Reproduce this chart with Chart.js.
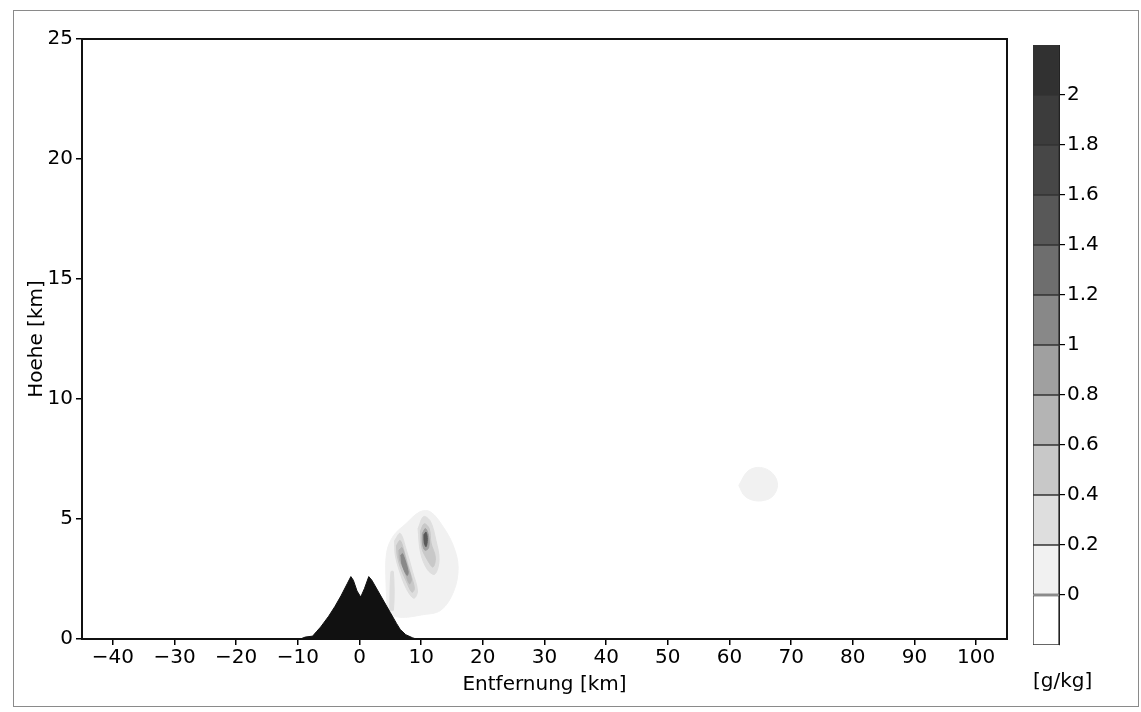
<!DOCTYPE html>
<html>
<head>
<meta charset="utf-8">
<script src="https://cdn.jsdelivr.net/npm/chart.js@4.4.1/dist/chart.umd.min.js"></script>
<style>
  html, body { margin: 0; padding: 0; background: #fff; }
  #wrap { position: relative; width: 1141px; height: 712px; overflow: hidden; }
  #frame { position: absolute; left: 13px; top: 10px; width: 1126px; height: 697px;
           border: 1px solid #8a8a8a; box-sizing: border-box; }
  #main { position: absolute; left: 0; top: 0; }
  #cbar { position: absolute; left: 1000px; top: 0; }
</style>
</head>
<body>
<div id="wrap">
  <div id="frame"></div>
  <canvas id="main" width="1141" height="712"></canvas>
  <canvas id="cbar" width="141" height="712"></canvas>
</div>
<script>
// axes
const xTicks = [-40, -30, -20, -10, 0, 10, 20, 30, 40, 50, 60, 70, 80, 90, 100];
const yTicks = [0, 5, 10, 15, 20, 25];

// terrain profile (km, km)
const terrainX = [-45, -9.6, -8.8, -7.6, -7.0, -6.3, -5.0, -4.0, -3.0, -2.0, -1.4, -1.0, -0.4, 0.2, 0.8, 1.5, 2.0, 3.0, 4.0, 5.0, 6.0, 6.6, 7.5, 8.6, 9.2, 105];
const terrainZ = [0, 0, 0.08, 0.12, 0.3, 0.5, 0.95, 1.35, 1.8, 2.3, 2.6, 2.45, 2.0, 1.75, 2.1, 2.6, 2.45, 2.0, 1.55, 1.1, 0.65, 0.4, 0.18, 0.05, 0, 0];

// colour bar levels [g/kg]
const levelEdges = [-0.2, 0, 0.2, 0.4, 0.6, 0.8, 1.0, 1.2, 1.4, 1.6, 1.8, 2.0, 2.2];
const levelTicks = [0, 0.2, 0.4, 0.6, 0.8, 1.0, 1.2, 1.4, 1.6, 1.8, 2.0];

// contour regions [x km, z km]; level = colour bar band
const haloMain = [[4.6,1.0],[7,0.9],[10,1.0],[13.2,1.2],[15.3,2.0],[16.0,3.0],[15.2,3.9],[13.5,4.7],[11.5,5.3],[9.8,5.3],[7.5,4.8],[5.5,4.3],[4.4,3.6],[4.3,2.3]];
const haloFar = [[61.5,6.4],[62.5,5.95],[64.5,5.75],[66.8,5.9],[67.8,6.4],[67.0,6.9],[65.0,7.15],[63.0,7.0]];
const slopeStreak = [[4.9,1.2],[5.5,1.2],[5.5,2.8],[5.1,2.8]];
const streak02 = [[5.7,4.1],[6.6,4.4],[7.6,3.7],[8.6,2.8],[9.4,2.0],[8.8,1.7],[7.6,2.1],[6.4,2.9],[5.8,3.5]];
const spot02 = [[9.5,4.6],[10.4,5.1],[11.5,4.9],[12.4,4.1],[12.9,3.3],[12.2,2.7],[11.0,2.9],[9.9,3.6]];
const streak04 = [[6.0,3.9],[6.6,4.1],[7.4,3.5],[8.3,2.7],[8.9,2.1],[8.5,1.95],[7.6,2.4],[6.6,3.0],[6.1,3.5]];
const streak06 = [[6.4,3.7],[6.9,3.8],[7.6,3.2],[8.4,2.5],[8.1,2.3],[7.2,2.9],[6.5,3.3]];
const streak08 = [[6.7,3.5],[7.0,3.55],[7.9,2.8],[7.7,2.65],[6.9,3.1]];
const spot04 = [[9.9,4.5],[10.5,4.8],[11.3,4.6],[11.6,4.0],[12.3,3.4],[11.9,3.0],[11.0,3.3],[10.1,3.8]];
const spot08 = [[10.2,4.4],[10.7,4.6],[11.2,4.3],[11.2,3.8],[10.6,3.7],[10.2,4.0]];
const spot14 = [[10.45,4.35],[10.8,4.45],[11.0,4.15],[10.8,3.85],[10.5,4.0]];

const contours = [
    { pts: haloMain, level: 1 },
    { pts: haloFar, level: 1 },
    { pts: slopeStreak, level: 2 },
    { pts: streak02, level: 2 },
    { pts: spot02, level: 2 },
    { pts: streak04, level: 3 },
    { pts: spot04, level: 3 },
    { pts: streak06, level: 4 },
    { pts: streak08, level: 6 },
    { pts: spot08, level: 5 },
    { pts: spot14, level: 8 }
];

// grey for each band, white below 0 up to near black above 2
const levelColors = ["#ffffff", "#f1f1f1", "#dedede", "#c8c8c8", "#b4b4b4", "#a0a0a0",
                     "#888888", "#6e6e6e", "#585858", "#474747", "#3c3c3c", "#313131"];

const FONT = { family: "'DejaVu Sans', sans-serif", size: 20 };
const INK = "#000";

const minus = v => (v < 0 ? "\u2212" + Math.abs(v) : String(v));

const framePlugin = {
    id: "frame",
    afterDatasetsDraw(chart) {
        const a = chart.chartArea, ctx = chart.ctx;
        ctx.save();
        ctx.strokeStyle = "#111";
        ctx.lineWidth = 2;
        ctx.strokeRect(a.left, a.top, a.right - a.left, a.bottom - a.top);
        ctx.restore();
    }
};

const datasets = [{
    label: "Gelaende",
    data: terrainX.map((x, i) => ({ x, y: terrainZ[i] })),
    showLine: true,
    borderColor: "#111",
    backgroundColor: "#111",
    borderWidth: 1,
    pointRadius: 0,
    fill: "origin",
    tension: 0,
    order: 0
}];

contours.forEach(c => {
    const pts = c.pts.concat([c.pts[0]]);
    datasets.push({
        data: pts.map(p => ({ x: p[0], y: p[1] })),
        showLine: true,
        borderColor: levelColors[c.level],
        backgroundColor: levelColors[c.level],
        borderWidth: 1,
        pointRadius: 0,
        fill: "shape",
        tension: 0.35,
        order: 20 - c.level
    });
});

new Chart(document.getElementById("main"), {
    type: "scatter",
    data: { datasets },
    options: {
        responsive: false,
        animation: false,
        layout: { padding: { left: 0, top: 39, right: 134, bottom: 0 } },
        plugins: { legend: { display: false }, tooltip: { enabled: false } },
        scales: {
            x: {
                type: "linear", min: -45, max: 105,
                afterBuildTicks: s => { s.ticks = xTicks.map(v => ({ value: v })); },
                afterFit: s => { s.height = 73; },
                ticks: { color: INK, font: FONT, padding: 1, maxRotation: 0, autoSkip: false, callback: minus },
                grid: { drawOnChartArea: false, color: INK, lineWidth: 1.5, tickLength: 6 },
                border: { display: true, color: "#111", width: 2 },
                title: { display: true, text: "Entfernung [km]", color: INK, font: FONT, padding: { top: 0, bottom: 15 } }
            },
            y: {
                type: "linear", min: 0, max: 25,
                afterBuildTicks: s => { s.ticks = yTicks.map(v => ({ value: v })); },
                afterFit: s => { s.width = 82; },
                ticks: { color: INK, font: FONT, padding: 3 },
                grid: { drawOnChartArea: false, color: INK, lineWidth: 1.5, tickLength: 6 },
                border: { display: true, color: "#111", width: 2 },
                title: { display: true, text: "Hoehe [km]", color: INK, font: FONT, padding: { top: 25, bottom: 0 } }
            }
        }
    },
    plugins: [framePlugin]
});

// colour bar
const bandSets = levelColors.map((col, i) => ({
    data: [[levelEdges[i], levelEdges[i + 1]]],
    backgroundColor: col,
    borderColor: "#333",
    borderWidth: 1,
    borderSkipped: false,
    grouped: false,
    barPercentage: 1,
    categoryPercentage: 1
}));

new Chart(document.getElementById("cbar"), {
    type: "bar",
    data: { labels: [""], datasets: bandSets },
    options: {
        responsive: false,
        animation: false,
        layout: { padding: { left: 33, top: 45, right: 0, bottom: 0 } },
        plugins: {
            legend: { display: false },
            tooltip: { enabled: false },
            title: {
                display: true, position: "bottom", align: "start", text: "[g/kg]",
                color: INK, font: { family: FONT.family, size: 20, weight: "normal" },
                padding: { top: 25, bottom: 18 }
            }
        },
        scales: {
            x: { display: false },
            y: {
                position: "right",
                min: -0.2, max: 2.2,
                afterBuildTicks: s => { s.ticks = levelTicks.map(v => ({ value: v })); },
                afterFit: s => { s.width = 82; },
                ticks: { color: INK, font: FONT, padding: 2, callback: v => String(Number(v.toFixed(1))) },
                grid: { drawOnChartArea: false, color: INK, lineWidth: 1.2, tickLength: 6 },
                border: { display: true, color: "#222", width: 1 }
            }
        }
    }
});
</script>
</body>
</html>
